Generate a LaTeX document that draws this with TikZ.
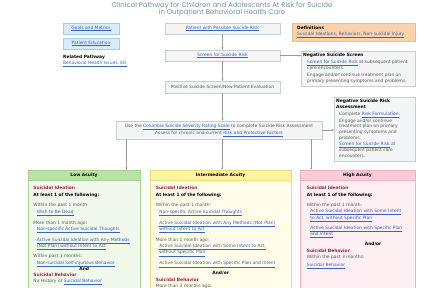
\documentclass[tikz,border=0pt]{standalone}
\usepackage{fontspec}
\setmainfont{DejaVu Sans}
\newfontfamily\titlefont{Poppins}
\usetikzlibrary{arrows.meta}

\definecolor{linkblue}{HTML}{3D63B8}
\definecolor{siRed}{HTML}{9E2343}
\definecolor{txtgray}{HTML}{5A5A5A}
\definecolor{titlegray}{HTML}{7293A2}
\definecolor{linegray}{HTML}{9A9A9A}
\definecolor{boxline}{HTML}{C9CED3}
\definecolor{boxfill}{HTML}{F3F5F7}
\definecolor{blueline}{HTML}{A8CDE2}
\definecolor{bluefill}{HTML}{D7ECF6}
\definecolor{orangeline}{HTML}{F4B98A}
\definecolor{orangefill}{HTML}{FBD2AC}
\definecolor{greenline}{HTML}{A3D68B}
\definecolor{greenhead}{HTML}{B8E4A3}
\definecolor{greenbody}{HTML}{F1F9EC}
\definecolor{yellowline}{HTML}{EEDD77}
\definecolor{yellowhead}{HTML}{FDF4A0}
\definecolor{yellowbody}{HTML}{FFFDE9}
\definecolor{pinkline}{HTML}{F0B3C1}
\definecolor{pinkhead}{HTML}{F9CDD7}
\definecolor{pinkbody}{HTML}{FDEFF2}

\newcommand{\lnk}[1]{\textcolor{linkblue}{\underline{#1}}}
\newcommand{\sihead}[1]{\textcolor{siRed}{\textbf{#1}}}
\newcommand{\when}[1]{\textcolor{txtgray}{#1}}
\newcommand{\ind}{\hspace*{3.5pt}}

\begin{document}
\begin{tikzpicture}[x=1pt, y=-1pt,
  every node/.style={inner sep=0pt, font=\fontsize{4.4}{5.7}\selectfont},
  box/.style={draw=boxline, fill=boxfill, line width=0.5pt, minimum height=11pt},
  bluebox/.style={draw=blueline, fill=bluefill, line width=0.5pt, minimum width=56pt, minimum height=11pt},
  notetext/.style={anchor=north west, align=left, text=txtgray},
  acuhead/.style={line width=0.5pt, minimum height=10pt, font=\fontsize{4.4}{5.7}\selectfont\bfseries},
  acubody/.style={line width=0.5pt, minimum height=130pt, anchor=north},
  acutext/.style={anchor=north west, align=left, font=\fontsize{4.4}{6.3}\selectfont},
  flow/.style={draw=linegray, line width=0.5pt, -{Stealth[length=2.2pt, width=2pt]}}]

\useasboundingbox (0,0) rectangle (421,287);
\clip (0,0) rectangle (421,287);

% Title
\node[font=\titlefont\fontsize{6.9}{7.2}\selectfont, text=titlegray, align=center] (title) at (222,9.3)
  {Clinical Pathway for Children and Adolescents At Risk for Suicide\\in Outpatient Behavioral Health Care};

% Left column
\node[bluebox] (goals) at (91,28.5) {\lnk{Goals and Metrics}};
\node[bluebox] (educ)  at (91,43.5) {\lnk{Patient Education}};
\node[anchor=west] (relhead) at (63,57) {\textbf{Related Pathway}};
\node[anchor=west] (rellink) at (63,64) {\lnk{Behavioral Health Issues, ED}};

% Main flow
\node[box, minimum width=115pt] (patient)  at (222.5,28.5) {\lnk{Patient with Possible Suicide Risk}};
\node[box, minimum width=115pt] (screen)   at (222.5,55.5) {\lnk{Screen for Suicide Risk}};
\node[box, minimum width=115pt, minimum height=12pt, text=txtgray] (positive) at (222.5,87) {Positive Suicide Screen/New Patient Evaluation};
\node[box, minimum width=206pt, minimum height=18pt, align=center, text=txtgray] (cssrs) at (219,130)
  {Use the \lnk{Columbia Suicide Severity Rating Scale} to complete Suicide Risk Assessment\\
   Assess for chronic and current \lnk{Risk and Protective Factors}};

% Right column
\node[anchor=north west, draw=orangeline, fill=orangefill, line width=0.5pt, minimum width=123pt, minimum height=18pt] (defs) at (292,23) {};
\node[anchor=west, align=left] (defstext) at (297,32)
  {\textbf{Definitions}\\\lnk{Suicidal Ideations, Behaviors, Non-suicidal Injury}};

\node[box, anchor=north west, minimum width=114pt, minimum height=35pt] (negscreen) at (301,51) {};
\node[notetext] (negscreentext) at (307,53.4)
  {\hspace*{-4pt}\textcolor{black}{\textbf{Negative Suicide Screen}}\\[1.3pt]
   \lnk{Screen for Suicide Risk} at subsequent patient\\
   care encounters.\\[1.3pt]
   Engage and/or continue treatment plan on\\
   primary presenting symptoms and problems.};

\node[box, anchor=north west, minimum width=81pt, minimum height=64pt] (negassess) at (334,97) {};
\node[notetext] (negassesstext) at (339,99.4)
  {\hspace*{-3pt}\textcolor{black}{\textbf{Negative Suicide Risk}}\\
   \hspace*{-3pt}\textcolor{black}{\textbf{Assessment}}\\[1pt]
   Complete \lnk{Risk Formulation}.\\[1pt]
   Engage and/or continue\\
   treatment plan on primary\\
   presenting symptoms and\\
   problems.\\[1pt]
   \lnk{Screen for Suicide Risk} at\\
   subsequent patient care\\
   encounters.};

% Acuity levels
\node[acuhead, draw=greenline, fill=greenhead, minimum width=112pt] (low) at (84,175) {Low Acuity};
\node[acubody, draw=greenline, fill=greenbody, minimum width=112pt] (lowbody) at (low.south) {};
\node[acuhead, draw=yellowline, fill=yellowhead, minimum width=141pt] (mid) at (220.5,175) {Intermediate Acuity};
\node[acubody, draw=yellowline, fill=yellowbody, minimum width=141pt] (midbody) at (mid.south) {};
\node[acuhead, draw=pinkline, fill=pinkhead, minimum width=115pt] (high) at (357.5,175) {High Acuity};
\node[acubody, draw=pinkline, fill=pinkbody, minimum width=115pt] (highbody) at (high.south) {};

\node[acutext, text width=110pt] (lowtext) at (33.3,186.3)
  {\sihead{Suicidal Ideation}\\
   \textbf{At least 1 of the following:}\\[4.5pt]
   \when{Within the past 1 month:}\\
   \ind\lnk{Wish to Be Dead}\\[4.5pt]
   \when{More than 1 month ago:}\\
   \ind\lnk{Non-specific Active Suicidal Thoughts}\\[4.5pt]
   \ind\lnk{Active Suicidal Ideation with Any Methods}\\
   \ind\lnk{(Not Plan) without Intent to Act}\\[4pt]
   \when{Within past 3 months:}\\
   \ind\lnk{Non-suicidal Self-injurious Behavior}\\
   \makebox[101.4pt]{\textbf{And}}\\
   \sihead{Suicidal Behavior}\\
   \when{No History of} \lnk{Suicidal Behavior}};

\node[acutext, text width=135pt] (midtext) at (155.7,186.3)
  {\sihead{Suicidal Ideation}\\
   \textbf{At least 1 of the following:}\\[4.5pt]
   \when{Within the past 1 month:}\\
   \ind\lnk{Non-specific Active Suicidal Thoughts}\\[4.5pt]
   \ind\lnk{Active Suicidal Ideation with Any Methods (Not Plan)}\\
   \ind\lnk{without Intent to Act}\\[4.5pt]
   \when{More than 1 month ago:}\\
   \ind\lnk{Active Suicidal Ideation with Some Intent to Act,}\\
   \ind\lnk{without Specific Plan}\\[4.5pt]
   \ind\lnk{Active Suicidal Ideation with Specific Plan and Intent}\\[4pt]
   \makebox[129.6pt]{\textbf{And/or}}\\
   \sihead{Suicidal Behavior}\\
   \when{More than 3 months ago:}};

\node[acutext, text width=110pt] (hightext) at (306.7,186.3)
  {\sihead{Suicidal Ideation}\\
   \textbf{At least 1 of the following:}\\[4pt]
   \when{Within the past 1 month:}\\
   \ind\lnk{Active Suicidal Ideation with Some Intent}\\
   \ind\lnk{to Act, without Specific Plan}\\[4pt]
   \ind\lnk{Active Suicidal Ideation with Specific Plan}\\
   \ind\lnk{and Intent}\\[4pt]
   \hspace*{58pt}\textbf{And/or}\\
   \sihead{Suicidal Behavior}\\
   \when{Within the past 3 months:}\\[2pt]
   \lnk{Suicidal Behavior}};

% Connectors
\draw[flow] (patient) -- (screen);
\draw[flow] (screen) -- (positive);
\draw[flow] (screen.east) -- (negscreen.west |- screen.east);
\draw[flow] (positive) -- (positive |- cssrs.north);
\draw[flow] (cssrs.east) -- (cssrs.east -| negassess.west);
\coordinate (lowtip)  at (126.5,170);
\coordinate (midtip)  at (222,170);
\coordinate (hightip) at (311,170);
\foreach \lvl in {low,mid,high}
  \draw[flow] (cssrs.south -| \lvl tip) -- (\lvl.north -| \lvl tip);
\end{tikzpicture}
\end{document}
